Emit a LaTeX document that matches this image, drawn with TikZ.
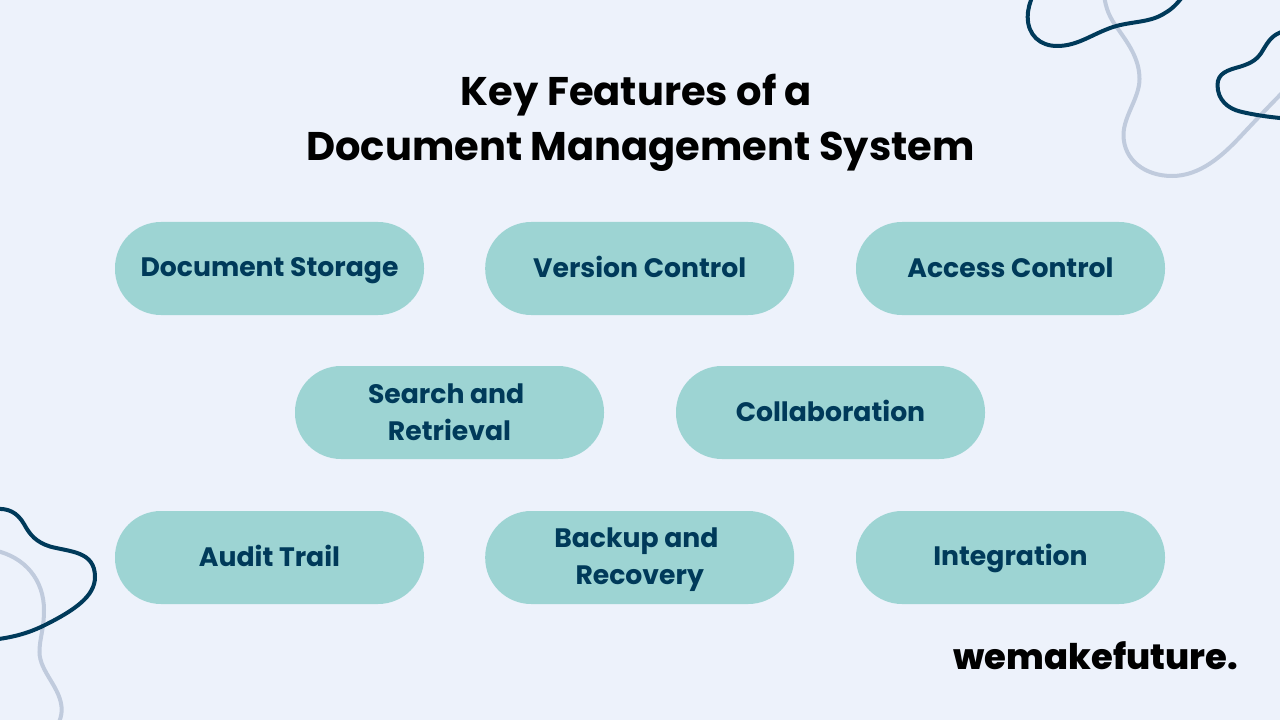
\documentclass[tikz,border=0pt]{standalone}
\usepackage{fontspec}
\setmainfont{Poppins}[BoldFont={Poppins Bold}]
\newfontfamily\logofont{Poppins ExtraBold}
\definecolor{bgc}{HTML}{EDF2FB}
\definecolor{pillc}{HTML}{9DD4D3}
\definecolor{inkc}{HTML}{003A5A}
\definecolor{grayc}{HTML}{C0CBDD}
\newcommand{\lst}{\rule[-3.5pt]{0pt}{21.2pt}}
\tikzset{
  pill/.style={fill=pillc,draw=none,rounded corners=34.5pt,minimum width=231.75pt,minimum height=69.75pt,inner sep=0pt,align=center,text=inkc,font=\fontsize{20}{27.75}\selectfont\bfseries},
  darkcurve/.style={draw=inkc,line width=3pt,line cap=round},
  graycurve/.style={draw=grayc,line width=3pt,line cap=round},
  titletext/.style={align=center,text=black,inner sep=0pt,font=\fontsize{30}{41}\selectfont\bfseries},
  logotext/.style={text=black,inner sep=0pt,font=\fontsize{26.5}{34}\logofont}
}
\begin{document}
\begin{tikzpicture}[x=0.75pt,y=-0.75pt]
\useasboundingbox (0,0) rectangle (1280,720);
\fill[bgc] (0,0) rectangle (1280,720);
\begin{scope}
\clip (0,0) rectangle (1280,720);
\draw[graycurve] (1104,-5) .. controls (1106,10) and (1110,18) .. (1118,29) .. controls (1127,42) and (1139.5,58) .. (1139.5,79) .. controls (1139.5,98) and (1123.5,116) .. (1123.5,135) .. controls (1123.5,160) and (1145,176) .. (1172,176) .. controls (1200,176) and (1222,156) .. (1240,137) .. controls (1255,121) and (1270,105) .. (1285,90);
\draw[darkcurve] (1033,-5) .. controls (1030,2) and (1027.7,9) .. (1027.7,17) .. controls (1027.7,35) and (1040,46) .. (1057,46) .. controls (1078,46) and (1092,34) .. (1113,27) .. controls (1132,21) and (1150,23) .. (1165,13) .. controls (1172,9) and (1177,4) .. (1183,-4);
\draw[darkcurve] (1285,31) .. controls (1272,34) and (1268,42) .. (1263,50) .. controls (1258,59) and (1252,63) .. (1240,66.7) .. controls (1228,70) and (1217.5,73) .. (1217.5,85) .. controls (1217.5,100) and (1228,108.5) .. (1240,111.5) .. controls (1252,114.5) and (1268,117) .. (1285,118.5);
\draw[graycurve] (-5,550.5) .. controls (25,557) and (44,580) .. (44,610) .. controls (44,630) and (39.5,638) .. (39.5,652) .. controls (39.5,672) and (61.7,688) .. (61.7,710) .. controls (61.7,715) and (60,720) .. (58,725);
\draw[darkcurve] (-5,509) .. controls (8,508) and (17,512) .. (24,524) .. controls (30,535) and (36,542) .. (50,546.5) .. controls (70,552) and (95,551) .. (95,577) .. controls (95,596) and (75,610) .. (45,625) .. controls (30,632.5) and (15,637) .. (-5,639.5);
\end{scope}
\node[titletext] (title) at (640.5,123) {Key Features of a\hspace*{6pt}\\Document Management System};
\node[pill] (storage) at (269.5,268.5) {\lst Document Storage};
\node[pill] (version) at (639.7,268.5) {\lst Version Control};
\node[pill] (access) at (1010.5,268.5) {\lst Access Control};
\node[pill] (search) at (449.5,412.5) {\lst Search and\hspace*{5pt}\\\lst Retrieval};
\node[pill] (collab) at (830.5,412.5) {\lst Collaboration};
\node[pill] (audit) at (269.5,557.5) {\lst Audit Trail};
\node[pill] (backup) at (639.7,557.5) {\lst Backup and\hspace*{5pt}\\\lst Recovery};
\node[pill] (integ) at (1010.5,557.5) {\lst Integration};
\node[logotext,anchor=east] (logo) at (1238,656) {wemakefuture.};
\end{tikzpicture}
\end{document}
